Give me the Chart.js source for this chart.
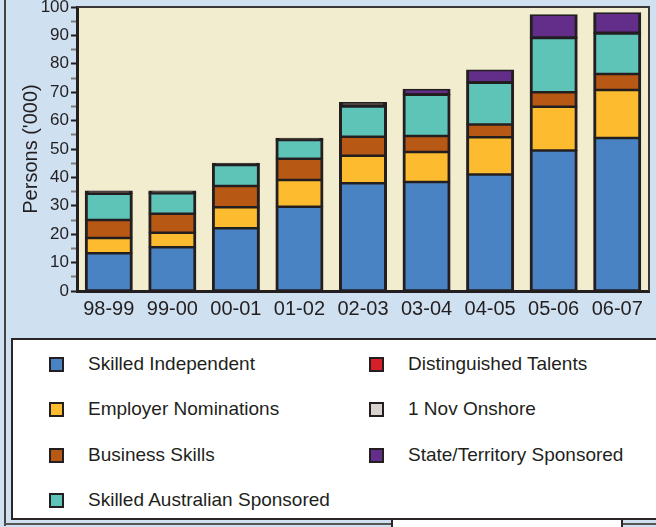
<!DOCTYPE html>
<html>
<head>
<meta charset="utf-8">
<script src="https://cdn.jsdelivr.net/npm/chart.js@4.4.0/dist/chart.umd.min.js"></script>
<style>
  body { margin: 0; width: 656px; height: 527px; overflow: hidden; background: #CFE0F1; position: relative;
         font-family: "Liberation Sans", Arial, sans-serif; color: #231F20; }
  #chartBox { position: absolute; left: 0; top: 0; width: 656px; height: 330px; }
  .edgeLeft { position: absolute; left: 4px; top: 0; width: 2px; height: 526px; background: #444; }
  .edgeBottom { position: absolute; left: 4px; top: 523px; width: 660px; height: 2px; background: #555; }
  #legend { position: absolute; left: 11px; top: 338px; width: 660px; height: 178px; border: 2.5px solid #2a2627; background: #fff; }
  .tab { position: absolute; left: 391px; top: 518px; width: 228px; height: 20px; border: 2px solid #2a2627; background: #fff; z-index: 2; }
  .item { position: absolute; height: 20px; display: flex; align-items: center; font-size: 19px; white-space: nowrap; }
  .swatch { width: 11px; height: 11px; border: 2.5px solid #231F20; margin-right: 24px; }
</style>
</head>
<body>
<div class="edgeLeft"></div>
<div class="edgeBottom"></div>
<div id="chartBox"><canvas id="skillChart"></canvas></div>
<div id="legend"></div>
<div class="tab"></div>
<script>
// ---------- Data ----------
const years = ['98-99', '99-00', '00-01', '01-02', '02-03', '03-04', '04-05', '05-06', '06-07'];

const skilledIndependent = [13.3, 15.4, 22.1, 29.7, 37.9, 38.4, 41.0, 49.5, 53.9];
const employerNominations = [5.4, 5.1, 7.4, 9.4, 9.7, 10.5, 13.1, 15.4, 16.9];
const businessSkills = [6.3, 6.7, 7.5, 7.5, 6.7, 5.7, 4.5, 5.1, 5.6];
const skilledAustralianSponsored = [9.2, 7.2, 7.4, 6.6, 10.7, 14.5, 14.7, 19.1, 14.3];
const distinguishedTalents = [0.2, 0.2, 0.2, 0.2, 0.2, 0.2, 0.2, 0.2, 0.2];
const novOnshore = [0, 0, 0, 0, 0, 0, 0, 0, 0];
const stateSponsored = [0.8, 0.6, 0.4, 0.4, 1.2, 1.7, 4.3, 8.0, 7.1];

const yTicks = [0, 10, 20, 30, 40, 50, 60, 70, 80, 90, 100];

const series = [
  { label: 'Skilled Independent', data: skilledIndependent, color: '#4A83C4' },
  { label: 'Employer Nominations', data: employerNominations, color: '#FDBC2F' },
  { label: 'Business Skills', data: businessSkills, color: '#B85815' },
  { label: 'Skilled Australian Sponsored', data: skilledAustralianSponsored, color: '#5EC4B8' },
  { label: 'Distinguished Talents', data: distinguishedTalents, color: '#D71F2A' },
  { label: '1 Nov Onshore', data: novOnshore, color: '#D9D3CD' },
  { label: 'State/Territory Sponsored', data: stateSponsored, color: '#632D8A' }
];

const ink = '#231F20';

// ---------- Plot frame ----------
const framePlugin = {
  id: 'frame',
  beforeDraw(chart) {
    const a = chart.chartArea, ctx = chart.ctx;
    ctx.save();
    ctx.fillStyle = '#F3EDCF';
    ctx.fillRect(a.left, a.top, a.right - a.left, a.bottom - a.top);
    ctx.restore();
  },
  afterDraw(chart) {
    const a = chart.chartArea, ctx = chart.ctx;
    ctx.save();
    ctx.strokeStyle = '#3a3637';
    ctx.lineWidth = 2;
    ctx.beginPath();
    ctx.moveTo(a.left, a.top);
    ctx.lineTo(a.right, a.top);
    ctx.lineTo(a.right, a.bottom);
    ctx.stroke();
    ctx.restore();
  }
};

new Chart(document.getElementById('skillChart'), {
  type: 'bar',
  data: {
    labels: years,
    datasets: series.map(s => ({
      label: s.label,
      data: s.data,
      // slivers thinner than the outline just read as outline
      backgroundColor: c => (c.raw < 1.5 ? ink : s.color),
      borderColor: ink,
      borderWidth: { top: 1.75, bottom: 1.75, left: 3, right: 3 },
      borderSkipped: false,
      inflateAmount: 0.5,
      categoryPercentage: 1,
      barPercentage: 0.74
    }))
  },
  options: {
    responsive: true,
    maintainAspectRatio: false,
    animation: false,
    layout: { padding: { top: 7, right: 7, left: 0, bottom: 0 } },
    plugins: { legend: { display: false }, tooltip: { enabled: false } },
    scales: {
      x: {
        stacked: true,
        afterFit: s => { s.height = 39; s.paddingLeft = 0; s.paddingRight = 0; },
        grid: { display: false, drawTicks: false },
        border: { display: true, color: ink, width: 3 },
        ticks: { color: ink, padding: 6, font: { family: 'Liberation Sans', size: 20 } }
      },
      y: {
        stacked: true,
        min: 0,
        max: 100,
        afterFit: s => { s.width = 77; s.paddingTop = 0; s.paddingBottom = 0; },
        afterBuildTicks: s => {
          const t = [];
          yTicks.forEach((v, i) => {
            t.push({ value: v });
            if (i < yTicks.length - 1) t.push({ value: v + 5 });
          });
          s.ticks = t;
        },
        grid: {
          drawOnChartArea: false,
          tickLength: 6,
          tickWidth: 2,
          tickColor: c => (yTicks.includes(c.tick.value) ? ink : '#7d7d7d')
        },
        border: { display: true, color: ink, width: 3 },
        ticks: {
          color: ink,
          padding: 2,
          autoSkip: false,
          font: { family: 'Liberation Sans', size: 17 },
          callback: v => (yTicks.includes(v) ? v : '')
        },
        title: {
          display: true,
          text: "Persons ('000)",
          color: ink,
          font: { family: 'Liberation Sans', size: 20 },
          padding: { top: 19, bottom: 0 }
        }
      }
    }
  },
  plugins: [framePlugin]
});

// ---------- Legend ----------
const legendEl = document.getElementById('legend');
const legendSpots = [
  [36, 24], [36, 69], [36, 115], [36, 160],
  [356, 24], [356, 69], [356, 115]
];
series.forEach((s, i) => {
  const item = document.createElement('div');
  item.className = 'item';
  item.style.left = legendSpots[i][0] + 'px';
  item.style.top = (legendSpots[i][1] - 10) + 'px';
  item.innerHTML = `<span class="swatch" style="background:${s.color}"></span><span>${s.label}</span>`;
  legendEl.appendChild(item);
});
</script>
</body>
</html>
